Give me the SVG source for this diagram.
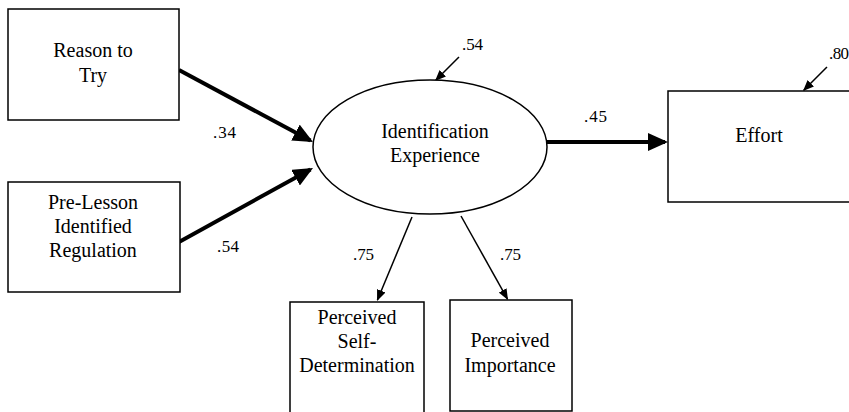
<svg xmlns="http://www.w3.org/2000/svg" width="849" height="412" viewBox="0 0 849 412">
<defs>
<style>
.box{fill:#fff;stroke:#000;stroke-width:1.5}
.thick{stroke:#000;stroke-width:4;fill:none}
.thin{stroke:#000;stroke-width:1.5;fill:none}
</style>
<marker id="bigArrow" markerUnits="userSpaceOnUse" markerWidth="20" markerHeight="18" refX="17" refY="9" orient="auto" viewBox="0 0 20 18">
<path d="M0,0 L20,9 L0,18 z" fill="#000"/>
</marker>
<marker id="smallArrow" markerUnits="userSpaceOnUse" markerWidth="11" markerHeight="9" refX="10" refY="4.5" orient="auto" viewBox="0 0 11 9">
<path d="M0,0 L11,4.5 L0,9 z" fill="#000"/>
</marker>
</defs>
<rect width="849" height="412" fill="#fff"/>
<g id="connectors">
<line class="thick" x1="179" y1="70" x2="310.4" y2="140.6" marker-end="url(#bigArrow)"/>
<line class="thick" x1="179" y1="242" x2="310.4" y2="169.4" marker-end="url(#bigArrow)"/>
<line class="thick" x1="546" y1="142" x2="665" y2="142" marker-end="url(#bigArrow)"/>
<line class="thin" x1="459" y1="57" x2="435.7" y2="80.3" marker-end="url(#smallArrow)"/>
<line class="thin" x1="827" y1="67" x2="803.7" y2="90.3" marker-end="url(#smallArrow)"/>
<line class="thin" x1="412" y1="217" x2="377.4" y2="300" marker-end="url(#smallArrow)"/>
<line class="thin" x1="461" y1="216" x2="507.5" y2="299.1" marker-end="url(#smallArrow)"/>
<g font-family="Liberation Serif, Times New Roman, DejaVu Serif, serif" font-size="17" fill="#000">
<text x="213" y="138" textLength="23">.34</text>
<text x="217" y="252" textLength="22">.54</text>
<text x="462" y="50" textLength="21">.54</text>
<text x="584" y="122" textLength="23">.45</text>
<text x="829" y="59" textLength="20">.80</text>
<text x="353" y="260" textLength="21">.75</text>
<text x="500" y="260" textLength="21">.75</text>
</g>
</g>
<g font-family="Liberation Serif, Times New Roman, DejaVu Serif, serif" font-size="20" fill="#000" text-anchor="middle">
<g id="reason">
<rect class="box" x="8" y="9" width="171" height="111"/>
<text x="93" y="57">Reason to</text>
<text x="93" y="82">Try</text>
</g>
<g id="prelesson">
<rect class="box" x="8" y="182" width="172" height="110"/>
<text x="93" y="209">Pre-Lesson</text>
<text x="93" y="233">Identified</text>
<text x="93" y="257">Regulation</text>
</g>
<g id="identification">
<ellipse class="box" cx="430" cy="147" rx="117" ry="67"/>
<text x="435" y="138">Identification</text>
<text x="435" y="162">Experience</text>
</g>
<g id="effort">
<rect class="box" x="668" y="91" width="182" height="111"/>
<text x="759" y="142">Effort</text>
</g>
<g id="selfdetermination">
<rect class="box" x="290" y="302" width="134" height="120"/>
<text x="357" y="324">Perceived</text>
<text x="357" y="348">Self-</text>
<text x="357" y="372">Determination</text>
</g>
<g id="importance">
<rect class="box" x="450" y="300" width="122" height="111"/>
<text x="510" y="347">Perceived</text>
<text x="510" y="372">Importance</text>
</g>
</g>
</svg>
